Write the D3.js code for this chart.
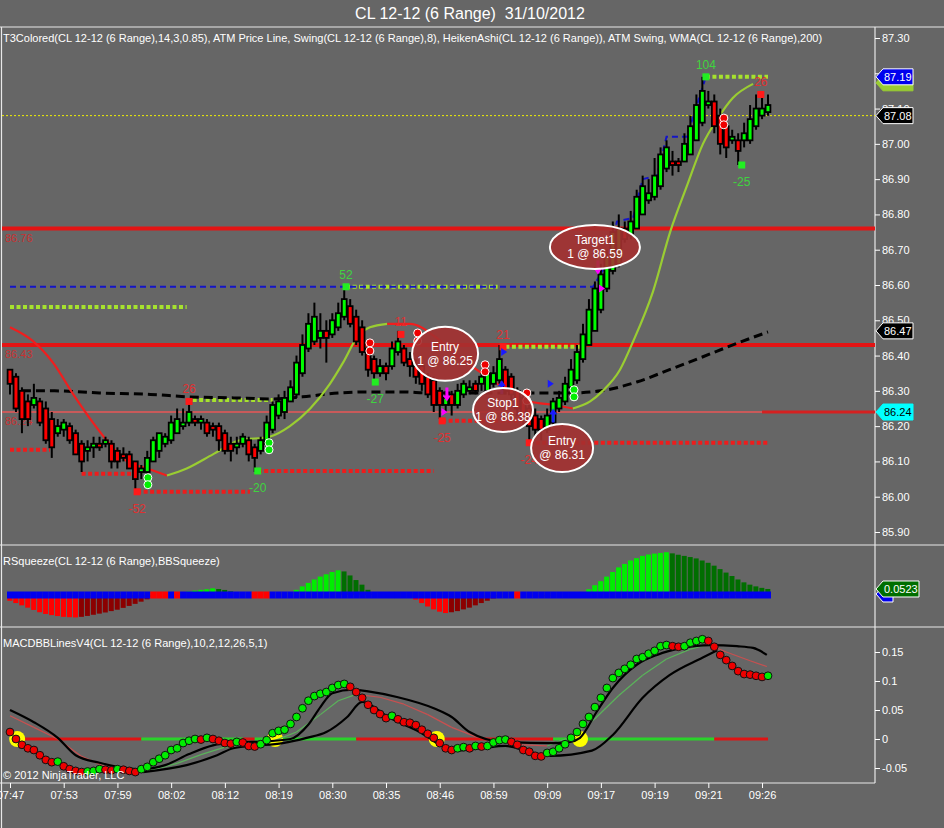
<!DOCTYPE html>
<html><head><meta charset="utf-8">
<script src="https://cdn.jsdelivr.net/npm/d3@7"></script>
<style>
html,body{margin:0;padding:0;background:#666;}
svg{display:block;font-family:"Liberation Sans",Arial,sans-serif;}
text{white-space:pre;}
</style></head><body>
<svg id="c" width="944" height="828"></svg>
<script>
// ---------------- DATA ----------------
const chartTitle = "CL 12-12 (6 Range)  31/10/2012";
const mainLabel = "T3Colored(CL 12-12 (6 Range),14,3,0.85), ATM Price Line, Swing(CL 12-12 (6 Range),8), HeikenAshi(CL 12-12 (6 Range)), ATM Swing, WMA(CL 12-12 (6 Range),200)";
const squeezeLabel = "RSqueeze(CL 12-12 (6 Range),BBSqueeze)";
const macdLabel = "MACDBBLinesV4(CL 12-12 (6 Range),10,2,12,26,5,1)";
const copyright = "\u00A9 2012 NinjaTrader, LLC";

const timeLabels = ["07:47","07:53","07:59","08:02","08:12","08:19","08:30","08:35","08:46","08:59","09:09","09:17","09:19","09:21","09:26"];
const timeTickBars = [0,9,18,27,36,45,54,63,72,81,90,99,108,117,126];
const priceTicks = [85.90,86.00,86.10,86.20,86.30,86.40,86.50,86.60,86.70,86.80,86.90,87.00,87.10,87.20,87.30];
const macdTicks = [-0.05,0,0.05,0.1,0.15];

// Heiken-Ashi bars (open, high, low, close)
const barOpen = [86.36,86.34,86.30,86.27,86.26,86.27,86.25,86.22,86.18,86.19,86.20,86.18,86.15,86.13,86.14,86.15,86.15,86.15,86.13,86.12,
86.12,86.10,86.07,86.07,86.10,86.13,86.15,86.16,86.18,86.20,86.21,86.22,86.21,86.21,86.20,86.20,86.18,86.15,86.14,86.15,
86.16,86.14,86.13,86.15,86.19,86.23,86.24,86.27,86.29,86.35,86.42,86.44,86.45,86.47,86.46,86.48,86.51,86.54,86.51,86.48,
86.42,86.39,86.35,86.37,86.37,86.41,86.42,86.39,86.37,86.37,86.34,86.33,86.30,86.26,86.29,86.26,86.29,86.30,86.32,86.32,
86.30,86.32,86.33,86.36,86.34,86.30,86.28,86.25,86.23,86.22,86.19,86.21,86.25,86.27,86.31,86.33,86.39,86.43,86.47,86.53,
86.59,86.64,86.66,86.76,86.74,86.76,86.80,86.84,86.85,86.88,86.93,86.95,86.95,86.95,86.97,87.01,87.06,87.11,87.12,87.08,
87.05,87.01,87.01,87.01,87.01,87.05,87.08,87.09];
const barHigh = [86.36,86.35,86.31,86.29,86.32,86.28,86.27,86.24,86.22,86.22,86.21,86.19,86.16,86.16,86.17,86.17,86.17,86.16,86.14,86.14,
86.13,86.10,86.09,86.13,86.17,86.18,86.18,86.23,86.25,86.25,86.27,86.23,86.23,86.22,86.21,86.21,86.19,86.17,86.17,86.18,
86.17,86.15,86.17,86.23,86.27,86.29,86.30,86.33,86.40,86.46,86.52,86.55,86.52,86.50,86.52,86.55,86.60,86.56,86.53,86.50,
86.43,86.40,86.39,86.38,86.44,86.47,86.43,86.41,86.39,86.38,86.35,86.34,86.31,86.30,86.30,86.32,86.33,86.33,86.33,86.35,
86.37,86.37,86.43,86.37,86.35,86.31,86.29,86.26,86.25,86.23,86.25,86.28,86.30,86.34,86.39,86.43,86.49,86.56,86.61,86.66,
86.70,86.78,86.80,86.78,86.81,86.87,86.91,86.90,86.96,86.99,87.01,86.98,86.96,87.03,87.08,87.14,87.19,87.15,87.14,87.10,
87.06,87.04,87.03,87.06,87.11,87.14,87.13,87.14];
const barLow = [86.29,86.24,86.18,86.20,86.25,86.20,86.15,86.11,86.17,86.17,86.15,86.12,86.07,86.10,86.11,86.13,86.14,86.08,86.08,86.10,
86.08,86.01,86.05,86.05,86.10,86.11,86.14,86.15,86.18,86.19,86.20,86.20,86.19,86.17,86.17,86.13,86.12,86.10,86.12,86.14,
86.10,86.07,86.12,86.14,86.18,86.22,86.22,86.27,86.28,86.34,86.41,86.43,86.42,86.38,86.45,86.47,86.50,86.48,86.43,86.40,
86.34,86.32,86.34,86.33,86.36,86.40,86.37,86.34,86.32,86.30,86.28,86.24,86.22,86.24,86.23,86.25,86.28,86.29,86.29,86.30,
86.30,86.31,86.32,86.29,86.27,86.23,86.20,86.15,86.17,86.16,86.18,86.20,86.24,86.26,86.30,86.32,86.38,86.43,86.47,86.52,
86.58,86.63,86.65,86.72,86.73,86.76,86.80,86.83,86.84,86.87,86.92,86.91,86.92,86.95,86.97,87.01,87.05,87.10,87.03,86.97,
86.96,87.00,86.94,86.99,87.00,87.04,87.07,87.08];
const barClose = [86.32,86.25,86.22,86.22,86.28,86.21,86.16,86.14,86.20,86.21,86.16,86.12,86.10,86.14,86.15,86.14,86.16,86.10,86.10,86.11,
86.08,86.05,86.08,86.11,86.16,86.18,86.17,86.21,86.22,86.21,86.24,86.21,86.22,86.18,86.19,86.16,86.13,86.13,86.15,86.17,
86.12,86.11,86.16,86.21,86.26,86.27,86.28,86.31,86.38,86.43,86.49,86.51,86.47,86.45,86.50,86.52,86.56,86.49,86.44,86.41,
86.36,86.35,86.37,86.35,86.42,86.44,86.38,86.37,86.34,86.32,86.29,86.26,86.26,86.28,86.26,86.30,86.32,86.31,86.30,86.34,
86.35,86.35,86.39,86.30,86.29,86.25,86.22,86.20,86.19,86.19,86.23,86.27,86.28,86.32,86.36,86.41,86.46,86.53,86.59,86.63,
86.68,86.75,86.76,86.73,86.78,86.85,86.88,86.86,86.91,86.97,86.99,86.94,86.94,87.00,87.05,87.11,87.15,87.12,87.05,87.00,
86.99,87.02,86.98,87.03,87.07,87.10,87.10,87.11];

// T3 line (bar index, price), split by slope direction
const t3Falling1 = [[0,86.48],[3.9,86.44],[7.2,86.38],[10.6,86.29],[13.9,86.21],[16.2,86.16],[19.6,86.10],[23,86.08],[26.3,86.06]];
const t3Rising1 = [[26.3,86.06],[29.6,86.08],[34,86.12],[38.5,86.16],[43.5,86.17],[46.9,86.20],[50.3,86.25],[53.6,86.32],[55.8,86.38],[58.1,86.45],[60.3,86.48],[63.2,86.49]];
const t3Falling2 = [[63.2,86.49],[67,86.49],[71.5,86.45],[74.9,86.40],[78.2,86.36],[82.6,86.31],[87.1,86.27],[91.2,86.26],[94.3,86.25]];
const t3Rising2 = [[94.3,86.25],[97.2,86.27],[99.3,86.30],[102.2,86.36],[104.4,86.44],[107.7,86.58],[110.6,86.75],[113.4,86.88],[116.1,87.00],[118.5,87.07],[121.1,87.13],[124.5,87.17]];

// WMA(200)
const wma = [[2,86.30],[7.5,86.30],[15,86.294],[23.5,86.29],[30,86.283],[37.5,86.28],[44,86.277],[49,86.283],[55,86.294],[60,86.297],[66,86.297],[70,86.294],[88,86.294],[94,86.294],[99,86.30],[105,86.325],[110.5,86.36],[116,86.396],[122,86.436],[127,86.467]];

// ATM swing trailing line
const atmTrail = [[0,86.595],[97.7,86.595],[100,86.66],[101.7,86.78],[104.4,86.79],[106,86.90],[108.4,86.91],[110,87.02],[113.4,87.02],[116.4,87.18]];

// horizontal levels
const atmLevels = [86.76, 86.43];
const stopLevel = 86.24;
const lastPrice = 87.08;
const wmaLast = 86.47;
const trailLast = 87.19;

// swing levels: price, from bar, to bar, bullish flag
const swingLevels = [
  {p:86.538,from:0,to:29.6,bull:true},
  {p:86.274,from:30.6,to:44,bull:true},
  {p:86.595,from:56.3,to:81.7,bull:true},
  {p:86.425,from:83,to:95.5,bull:true},
  {p:87.19,from:116.6,to:127,bull:true},
  {p:86.133,from:0,to:6.7,bull:false},
  {p:86.065,from:12,to:21,bull:false},
  {p:86.014,from:21.3,to:40.2,bull:false},
  {p:86.073,from:41.5,to:71,bull:false},
  {p:86.215,from:72.4,to:86.6,bull:false},
  {p:86.153,from:87,to:127,bull:false}
];
// swing points: bar, price, label, high?, colour flag (true = green)
const swingPoints = [
  {i:30,p:86.27,label:"26",high:true,green:false},
  {i:21.3,p:86.014,label:"-52",high:false,green:false},
  {i:41.5,p:86.073,label:"-20",high:false,green:true},
  {i:56.3,p:86.595,label:"52",high:true,green:true},
  {i:61.2,p:86.325,label:"-27",high:false,green:true},
  {i:65.5,p:86.46,label:"11",high:true,green:false},
  {i:72.4,p:86.215,label:"-25",high:false,green:false},
  {i:82.6,p:86.425,label:"21",high:true,green:false},
  {i:87,p:86.153,label:"-24",high:false,green:false},
  {i:116.6,p:87.19,label:"104",high:true,green:true},
  {i:125.8,p:87.14,label:"26",high:true,green:false},
  {i:122.6,p:86.94,label:"-25",high:false,green:true}
];
// paired circle markers
const circlePairs = [
  {i:23.1,p1:86.054,p2:86.034,green:true},
  {i:43.4,p1:86.153,p2:86.133,green:true},
  {i:60.3,p1:86.436,p2:86.413,green:false},
  {i:68.3,p1:86.464,p2:86.441,green:false},
  {i:79.6,p1:86.374,p2:86.354,green:false},
  {i:86.6,p1:86.294,p2:86.272,green:false},
  {i:94.5,p1:86.303,p2:86.283,green:true},
  {i:119.6,p1:87.073,p2:87.054,green:false}
];
// executions: bar, price, side
const executions = [
  {i:73.2,p:86.27,kind:"sellArrow"},
  {i:72.8,p:86.24,kind:"sellTri"},
  {i:82.4,p:86.33,kind:"buyArrow"},
  {i:82.8,p:86.41,kind:"buyTri"},
  {i:91.0,p:86.25,kind:"buyArrow"},
  {i:90.6,p:86.32,kind:"buyTri"},
  {i:98.5,p:86.63,kind:"sellArrow"},
  {i:99.2,p:86.59,kind:"sellTri"}
];
// order annotations
const annotations = [
  {i:72.9,p:86.405,text:["Entry","1 @ 86.25"]},
  {i:82.6,p:86.246,text:["Stop1","1 @ 86.38"]},
  {i:92.5,p:86.138,text:["Entry","@ 86.31"]},
  {i:98.0,p:86.708,text:["Target1","1 @ 86.59"]}
];

// RSqueeze histogram
const squeeze = [-0.05,-0.07,-0.09,-0.11,-0.13,-0.15,-0.165,-0.175,-0.183,-0.19,-0.193,-0.195,-0.19,-0.182,-0.172,-0.162,-0.152,-0.14,-0.128,-0.112,
-0.095,-0.077,-0.058,-0.038,-0.018,0,0,0,0.005,0.018,0.03,0.038,0.045,0.05,0.058,0.052,0.044,0.032,0.02,0.01,
0.004,0,0,0,0,0,0.005,0.02,0.045,0.075,0.105,0.135,0.16,0.18,0.2,0.215,0.205,0.17,0.13,0.09,
0.045,0.01,0,0,0,0,0,-0.015,-0.04,-0.07,-0.1,-0.125,-0.145,-0.157,-0.15,-0.14,-0.125,-0.11,-0.09,-0.07,
-0.05,-0.03,-0.012,0,0,0,0,0,-0.008,-0.018,-0.012,-0.004,0,0,0,0.005,0.02,0.05,0.085,0.12,
0.16,0.2,0.24,0.27,0.3,0.32,0.34,0.352,0.36,0.366,0.372,0.362,0.35,0.34,0.33,0.318,0.3,0.28,0.255,0.225,
0.195,0.165,0.135,0.11,0.09,0.075,0.062,0.0523];
const squeezeOnBars = [24,25,26,28,41,42,43,85];
const squeezeLast = 0.0523;

// MACD
const macd = [0.012,0.000,-0.010,-0.016,-0.019,-0.028,-0.036,-0.040,-0.039,-0.047,-0.052,-0.055,-0.057,-0.056,-0.055,-0.052,-0.053,-0.054,-0.052,-0.053,
-0.055,-0.057,-0.052,-0.048,-0.040,-0.034,-0.028,-0.019,-0.016,-0.007,-0.003,0.000,-0.001,0.002,0.000,-0.003,-0.007,-0.008,-0.005,-0.006,
-0.012,-0.013,-0.009,-0.002,0.010,0.014,0.016,0.026,0.038,0.053,0.066,0.074,0.078,0.081,0.088,0.093,0.095,0.090,0.081,0.071,
0.059,0.050,0.043,0.036,0.040,0.034,0.029,0.028,0.024,0.016,0.009,0.002,-0.007,-0.016,-0.019,-0.016,-0.014,-0.016,-0.012,-0.013,
-0.012,-0.006,-0.002,-0.001,-0.005,-0.010,-0.019,-0.022,-0.029,-0.030,-0.024,-0.022,-0.016,-0.009,0.002,0.012,0.026,0.038,0.055,0.071,
0.088,0.105,0.114,0.121,0.128,0.138,0.141,0.147,0.152,0.160,0.162,0.160,0.159,0.160,0.166,0.169,0.172,0.169,0.159,0.145,
0.136,0.126,0.117,0.112,0.111,0.109,0.107,0.109];
const macdUpper = [[0,0.050],[4,0.029],[8,0.002],[11,-0.028],[15,-0.041],[18,-0.048],[22,-0.052],[26,-0.045],[30,-0.026],[34,-0.011],[38,-0.006],[43,-0.004],[47,0.0],[50,0.025],[52,0.055],[54,0.079],[57.5,0.085],[60,0.082],[65,0.072],[71,0.053],[74,0.038],[77,0.012],[82.6,-0.005],[91,-0.007],[93.8,-0.005],[95.5,0.002],[98.3,0.047],[101,0.088],[105,0.128],[108.4,0.145],[112.7,0.157],[117.3,0.162],[121.8,0.160],[124.5,0.157],[126.8,0.145]];
const macdLower = [[22.3,-0.057],[29.6,-0.045],[34.7,-0.028],[37.4,-0.016],[40.7,-0.012],[45.7,-0.007],[49.7,0.002],[53,0.012],[56.5,0.038],[59,0.064],[61,0.055],[63,0.040],[66,0.025],[69,0.010],[72,-0.010],[75,-0.020],[79,-0.016],[83,-0.012],[87,-0.022],[90.5,-0.029],[97.5,-0.020],[101,0.007],[106,0.071],[110.5,0.110],[116,0.140],[118.5,0.153]];
const macdAvg = [[0,0.040],[4,0.020],[8,0.0],[12,-0.030],[16,-0.048],[20,-0.055],[24,-0.053],[28,-0.042],[32,-0.027],[36,-0.014],[40,-0.009],[44,-0.004],[48,0.012],[52,0.042],[55,0.066],[58,0.077],[62,0.072],[66,0.060],[70,0.042],[74,0.020],[78,0.004],[82,-0.004],[86,-0.010],[90,-0.012],[94,0.004],[98,0.035],[102,0.075],[106,0.110],[110,0.138],[114,0.155],[117,0.163],[120,0.150],[124,0.135],[126.8,0.125]];
const macdZeroState = [[0,22,-1],[22,39,1],[39,41,-1],[41,58,1],[58,91,-1],[91,118,1],[118,127,-1]];
const macdCrosses = [1.2,44.4,71.5,95.5];

// ---------------- DRAWING ----------------
const W = 944, H = 828;
const svg = d3.select("#c");
svg.append("rect").attr("width",W).attr("height",H).attr("fill","#666666");

const n = barClose.length;
const x = d3.scaleLinear().domain([0,n-1]).range([10,768]);
const y = d3.scaleLinear().domain([85.9,87.3]).range([532,38]);
const ySq = d3.scaleLinear().domain([-0.2,0.4]).range([618,549]);
const yM = d3.scaleLinear().domain([-0.05,0.15]).range([768,652]);
const AX = 875;

const defs = svg.append("defs");
defs.append("clipPath").attr("id","mainClip").append("rect").attr("x",2).attr("y",28).attr("width",AX-2).attr("height",516);
defs.append("clipPath").attr("id","sqClip").append("rect").attr("x",2).attr("y",546).attr("width",AX-2).attr("height",80);
defs.append("clipPath").attr("id","mClip").append("rect").attr("x",2).attr("y",628).attr("width",AX-2).attr("height",154);

// Title
svg.append("text").attr("x",470).attr("y",19).attr("text-anchor","middle").attr("fill","#fff")
  .attr("font-size",16).text(chartTitle);

// frame lines
const frame = svg.append("g").attr("stroke","#e8e8e8").attr("stroke-width",1.2);
[[0,27,W,27],[0,545,W,545],[0,627,W,627],[0,783,AX,783],[AX,27,AX,783],[1.5,27,1.5,H]].forEach(l=>{
  frame.append("line").attr("x1",l[0]).attr("y1",l[1]).attr("x2",l[2]).attr("y2",l[3]);
});

// ---------- MAIN PANEL ----------
const main = svg.append("g").attr("clip-path","url(#mainClip)");
const line = d3.line().x(d=>x(d[0])).y(d=>y(d[1]));
const curve = d3.line().x(d=>x(d[0])).y(d=>y(d[1])).curve(d3.curveMonotoneX);

// price line (yellow dotted)
main.append("line").attr("x1",2).attr("x2",AX).attr("y1",y(lastPrice)).attr("y2",y(lastPrice))
  .attr("stroke","#f0f000").attr("stroke-width",1).attr("stroke-dasharray","2,2");
// stop level
main.append("line").attr("x1",2).attr("x2",AX).attr("y1",y(stopLevel)).attr("y2",y(stopLevel))
  .attr("stroke","#c85a5a").attr("stroke-width",2);
main.append("line").attr("x1",x(n-2)).attr("x2",AX).attr("y1",y(stopLevel)).attr("y2",y(stopLevel))
  .attr("stroke","#d42020").attr("stroke-width",3);
// ATM levels
atmLevels.forEach(p=>{
  main.append("line").attr("x1",2).attr("x2",AX).attr("y1",y(p)).attr("y2",y(p))
    .attr("stroke","#e31414").attr("stroke-width",4);
});
// left level labels
[...atmLevels, stopLevel].forEach(p=>{
  main.append("text").attr("x",5).attr("y",y(p)+13).attr("fill","#c83232").attr("font-size",11)
    .text(p.toFixed(2));
});

// swing levels
swingLevels.forEach(s=>{
  main.append("line").attr("x1",x(s.from)).attr("x2",x(s.to)).attr("y1",y(s.p)).attr("y2",y(s.p))
    .attr("stroke",s.bull?"#a6e22e":"#ee1c1c").attr("stroke-width",4).attr("stroke-dasharray","4,2.5");
});

// ATM trail (blue dashed)
main.append("path").attr("d",line(atmTrail)).attr("fill","none").attr("stroke","#1414c8")
  .attr("stroke-width",2).attr("stroke-dasharray","6,4");

// WMA
main.append("path").attr("d",curve(wma)).attr("fill","none").attr("stroke","#000")
  .attr("stroke-width",3).attr("stroke-dasharray","9,5");

// T3
[[t3Falling1,"#f01e1e"],[t3Rising1,"#9acd32"],[t3Falling2,"#f01e1e"],[t3Rising2,"#9acd32"]].forEach(([pts,col])=>{
  main.append("path").attr("d",curve(pts)).attr("fill","none").attr("stroke",col).attr("stroke-width",2.2);
});

// candles
const bars = d3.range(n).map(i=>({i,o:barOpen[i],h:barHigh[i],l:barLow[i],c:barClose[i]}));
main.append("g").selectAll("line").data(bars).join("line")
  .attr("x1",d=>x(d.i)).attr("x2",d=>x(d.i)).attr("y1",d=>y(d.h)).attr("y2",d=>y(d.l))
  .attr("stroke","#000").attr("stroke-width",2);
main.append("g").selectAll("rect").data(bars).join("rect")
  .attr("x",d=>x(d.i)-2.4).attr("width",4.8)
  .attr("y",d=>y(Math.max(d.o,d.c)))
  .attr("height",d=>Math.max(2,Math.abs(y(d.o)-y(d.c))))
  .attr("fill",d=>d.c>=d.o?"#00ff00":"#ff0000")
  .attr("stroke","#000").attr("stroke-width",1.8);

// swing points
swingPoints.forEach(s=>{
  const col = s.green?"#22ee22":"#ff1a1a";
  main.append("rect").attr("x",x(s.i)-3.5).attr("y",y(s.p)-3.5).attr("width",7).attr("height",7).attr("fill",col);
  main.append("text").attr("x",x(s.i)).attr("y",s.high?y(s.p)-8:y(s.p)+21)
    .attr("text-anchor","middle").attr("font-size",12)
    .attr("fill",s.green?"#3fd43f":"#e03030").text(s.label);
});

// circle pairs
circlePairs.forEach(c=>{
  [c.p1,c.p2].forEach(p=>{
    main.append("circle").attr("cx",x(c.i)).attr("cy",y(p)).attr("r",4)
      .attr("fill",c.green?"#00ee00":"#ee0000").attr("stroke","#fff").attr("stroke-width",1);
  });
});

// executions
executions.forEach(e=>{
  const cx = x(e.i), cy = y(e.p);
  const sell = e.kind.startsWith("sell");
  const col = sell?"#ff00ff":"#1a1aff";
  if(e.kind.endsWith("Arrow")){
    if(sell){
      main.append("path").attr("d",`M${cx-1.5},${cy-14}L${cx+1.5},${cy-14}L${cx+1.5},${cy-6}L${cx+4},${cy-6}L${cx},${cy}L${cx-4},${cy-6}L${cx-1.5},${cy-6}Z`).attr("fill",col);
    } else {
      main.append("path").attr("d",`M${cx-1.5},${cy+14}L${cx+1.5},${cy+14}L${cx+1.5},${cy+6}L${cx+4},${cy+6}L${cx},${cy}L${cx-4},${cy+6}L${cx-1.5},${cy+6}Z`).attr("fill",col);
    }
  } else {
    main.append("path").attr("d",`M${cx-3},${cy-4}L${cx+3},${cy}L${cx-3},${cy+4}Z`).attr("fill",col);
  }
});

// annotations (ellipses)
const annSize = [[33,27],[30,22],[31,24],[45,22]];
annotations.forEach((a,k)=>{
  const cx = x(a.i), cy = y(a.p);
  main.append("ellipse").attr("cx",cx).attr("cy",cy).attr("rx",annSize[k][0]).attr("ry",annSize[k][1])
    .attr("fill","#a43030").attr("fill-opacity",0.9).attr("stroke","#fff").attr("stroke-width",2);
  a.text.forEach((t,j)=>{
    main.append("text").attr("x",cx).attr("y",cy-3+j*14).attr("text-anchor","middle")
      .attr("fill","#fff").attr("font-size",12).text(t);
  });
});

// main label
svg.append("text").attr("x",3).attr("y",42).attr("fill","#fff").attr("font-size",11).text(mainLabel);

// price axis
function styleAxis(g){
  g.select(".domain").remove();
  g.selectAll("line").attr("stroke","#fff");
  g.selectAll("text").attr("fill","#fff").attr("font-size",11).attr("font-family","Liberation Sans, Arial, sans-serif");
}
const pAxis = svg.append("g").attr("transform",`translate(${AX},0)`)
  .call(d3.axisRight(y).tickValues(priceTicks).tickFormat(d3.format(".2f")).tickSize(5).tickPadding(2));
styleAxis(pAxis);

// right tags
function tag(yy, txt, fill, tcol, stroke, w){
  const g = svg.append("g");
  const x0 = AX+1;
  g.append("path").attr("d",`M${x0},${yy}L${x0+7},${yy-8}L${x0+7+w},${yy-8}L${x0+7+w},${yy+8}L${x0+7},${yy+8}Z`)
    .attr("fill",fill).attr("stroke",stroke).attr("stroke-width",1);
  if(txt) g.append("text").attr("x",x0+8).attr("y",yy+4).attr("fill",tcol).attr("font-size",11).text(txt);
}
tag(y(trailLast)+6,"","#9acd32","#000","#9acd32",30);
tag(y(trailLast),trailLast.toFixed(2),"#0000ee","#fff","#fff",30);
tag(y(lastPrice),lastPrice.toFixed(2),"#000","#fff","#fff",30);
tag(y(wmaLast),wmaLast.toFixed(2),"#000","#fff","#fff",30);
tag(y(stopLevel),stopLevel.toFixed(2),"#00ffff","#000","#00ffff",30);

// ---------- SQUEEZE PANEL ----------
const sq = svg.append("g").attr("clip-path","url(#sqClip)");
sq.selectAll("rect.h").data(squeeze).join("rect").attr("class","h")
  .attr("x",(d,i)=>x(i)-2.7).attr("width",5)
  .attr("y",d=>d>=0?ySq(d):ySq(0)).attr("height",d=>Math.abs(ySq(d)-ySq(0)))
  .attr("fill",(d,i)=>{
    const prev = i>0?squeeze[i-1]:d;
    if(d>=0) return d>=prev?"#00ee00":"#006e00";
    return d<=prev?"#ff0000":"#8b0000";
  });
sq.selectAll("rect.z").data(squeeze).join("rect").attr("class","z")
  .attr("x",(d,i)=>x(i)-3).attr("width",6).attr("y",ySq(0)-3.5).attr("height",7)
  .attr("fill",(d,i)=>squeezeOnBars.includes(i)?"#ff0000":"#0000ee");
svg.append("text").attr("x",3).attr("y",565).attr("fill","#fff").attr("font-size",11).text(squeezeLabel);
tag(ySq(squeezeLast)+5,"","#0000ee","#fff","#fff",10);
tag(ySq(squeezeLast),squeezeLast.toFixed(4),"#006e00","#fff","#fff",36);

// ---------- MACD PANEL ----------
const mp = svg.append("g").attr("clip-path","url(#mClip)");
const mline = d3.line().x(d=>x(d[0])).y(d=>yM(d[1])).curve(d3.curveMonotoneX);
macdZeroState.forEach(s=>{
  mp.append("line").attr("x1",x(s[0])).attr("x2",x(s[1])).attr("y1",yM(0)).attr("y2",yM(0))
    .attr("stroke",s[2]>0?"#2ad22a":"#e01414").attr("stroke-width",3);
});
macdCrosses.forEach(c=>{
  mp.append("circle").attr("cx",x(c)).attr("cy",yM(0)).attr("r",8).attr("fill","#ffff00");
});
for(let k=1;k<macdAvg.length;k++){
  const a = macdAvg[k-1], b = macdAvg[k];
  mp.append("path").attr("d",mline([a,b])).attr("fill","none")
    .attr("stroke",b[1]>=a[1]?"#5ab45a":"#c85050").attr("stroke-width",1.2);
}
mp.append("path").attr("d",mline(macdUpper)).attr("fill","none").attr("stroke","#000").attr("stroke-width",2.2);
mp.append("path").attr("d",mline(macdLower)).attr("fill","none").attr("stroke","#000").attr("stroke-width",2.2);
mp.selectAll("circle.d").data(macd).join("circle").attr("class","d")
  .attr("cx",(d,i)=>x(i)).attr("cy",d=>yM(d)).attr("r",3.9)
  .attr("fill",(d,i)=>(i>0 && d>=macd[i-1])?"#00ee00":"#ee0000")
  .attr("stroke","#111").attr("stroke-width",1);
svg.append("text").attr("x",3).attr("y",647).attr("fill","#fff").attr("font-size",11).text(macdLabel);
svg.append("text").attr("x",3).attr("y",779).attr("fill","#fff").attr("font-size",11).text(copyright);

const mAxis = svg.append("g").attr("transform",`translate(${AX},0)`)
  .call(d3.axisRight(yM).tickValues(macdTicks).tickFormat(d=>d===0?"0":String(+d.toFixed(2))).tickSize(5).tickPadding(2));
styleAxis(mAxis);

// ---------- TIME AXIS ----------
const tAxis = svg.append("g").attr("transform","translate(0,783)")
  .call(d3.axisBottom(x).tickValues(timeTickBars).tickFormat((d,k)=>timeLabels[k]).tickSize(5).tickPadding(3));
styleAxis(tAxis);
</script>
</body></html>
